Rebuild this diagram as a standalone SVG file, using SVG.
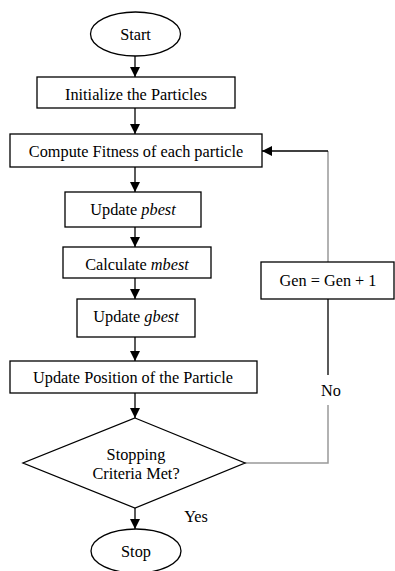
<svg xmlns="http://www.w3.org/2000/svg" width="395" height="571" viewBox="0 0 395 571">
<style>
.box{fill:#fff;stroke:#000;stroke-width:1.3}
.t{font-family:"Liberation Serif","Times New Roman",serif;font-size:16.3px;fill:#000;text-anchor:middle}
.i{font-style:italic}
.c{stroke:#000;stroke-width:1.3;fill:none}
.g{stroke:#999;stroke-width:1.5;fill:none}
</style>
<defs>
<marker id="ah" viewBox="0 0 10 10" refX="10" refY="5" markerWidth="10" markerHeight="10" markerUnits="userSpaceOnUse" orient="auto">
<path d="M0,0 L10,5 L0,10 z" fill="#000"/>
</marker>
</defs>
<rect width="395" height="571" fill="#fff"/>
<g id="connectors">
<line class="c" x1="135" y1="56" x2="135" y2="77" marker-end="url(#ah)"/>
<line class="c" x1="135" y1="108" x2="135" y2="134" marker-end="url(#ah)"/>
<line class="c" x1="135" y1="167" x2="135" y2="192" marker-end="url(#ah)"/>
<line class="c" x1="135" y1="227" x2="135" y2="247" marker-end="url(#ah)"/>
<line class="c" x1="135" y1="278" x2="135" y2="299" marker-end="url(#ah)"/>
<line class="c" x1="135" y1="337" x2="135" y2="361" marker-end="url(#ah)"/>
<line class="c" x1="135" y1="393" x2="135" y2="418" marker-end="url(#ah)"/>
<line class="c" x1="135" y1="508" x2="135" y2="529" marker-end="url(#ah)"/>
<polyline class="g" points="245,463 328,463 328,405"/>
<line class="c" x1="328" y1="299" x2="328" y2="375"/>
<line class="g" x1="328" y1="262" x2="328" y2="151"/>
<line class="c" x1="328" y1="151" x2="262" y2="151" marker-end="url(#ah)"/>
<text class="t" x="331" y="396">No</text>
<text class="t" x="196" y="522">Yes</text>
</g>
<g id="start">
<ellipse class="box" cx="135.5" cy="34" rx="45" ry="22"/>
<text class="t" x="135.5" y="40">Start</text>
</g>
<g id="init">
<rect class="box" x="37" y="77" width="198" height="31"/>
<text class="t" x="136" y="100">Initialize the Particles</text>
</g>
<g id="fitness">
<rect class="box" x="10" y="134" width="252" height="33"/>
<text class="t" x="136" y="157">Compute Fitness of each particle</text>
</g>
<g id="pbest">
<rect class="box" x="65" y="192" width="136" height="35"/>
<text class="t" x="133" y="215">Update <tspan class="i">pbest</tspan></text>
</g>
<g id="mbest">
<rect class="box" x="63" y="247" width="148" height="31"/>
<text class="t" x="137" y="270">Calculate <tspan class="i">mbest</tspan></text>
</g>
<g id="gbest">
<rect class="box" x="77" y="299" width="118" height="38"/>
<text class="t" x="136" y="322">Update <tspan class="i">gbest</tspan></text>
</g>
<g id="position">
<rect class="box" x="10" y="361" width="247" height="32"/>
<text class="t" x="133" y="383">Update Position of the Particle</text>
</g>
<g id="criteria">
<polygon class="box" points="135,418 245,463 135,508 23,463"/>
<text class="t" x="136" y="460">Stopping</text>
<text class="t" x="136" y="479">Criteria Met?</text>
</g>
<g id="gen">
<rect class="box" x="261" y="262" width="133" height="37"/>
<text class="t" x="328" y="286">Gen = Gen + 1</text>
</g>
<g id="stop">
<ellipse class="box" cx="136" cy="551" rx="45" ry="22"/>
<text class="t" x="136" y="557">Stop</text>
</g>
</svg>
